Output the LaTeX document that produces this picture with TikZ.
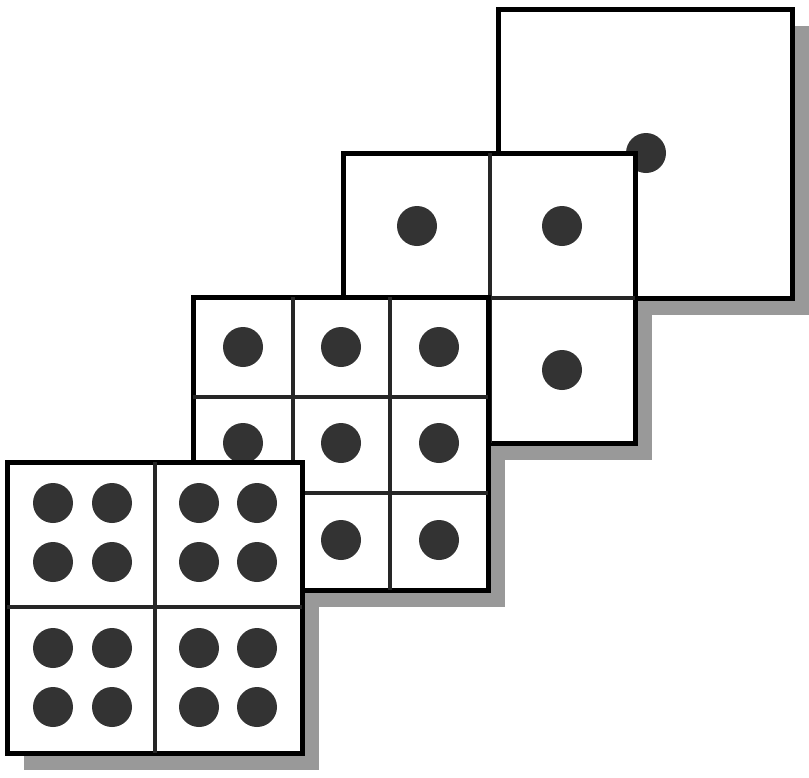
\documentclass[tikz,border=0pt]{standalone}
\tikzset{
  drop/.style ={fill=black!40,draw=none},
  tile/.style ={draw=black,fill=white,line width=2.5pt},
  cut/.style  ={draw=black!85,line width=2pt},
  pip/.style  ={fill=black!80,draw=none},
}

\begin{document}
\begin{tikzpicture}[x=0.5pt,y=-0.5pt]
\useasboundingbox (0,0) rectangle (809,777);
% shadows
\fill[drop] (515,26) rectangle (809,315);
\fill[drop] (360,170) rectangle (652,460);
\fill[drop] (210,314) rectangle (505,607);
\fill[drop] (24,479) rectangle (319,770);
% one
\draw[tile] (498,9) rectangle (792,298);
\fill[pip] (646,153) circle (10pt);
% two
\draw[tile] (343,153) rectangle (635,443);
\draw[cut] (490,153) -- (490,443) (343,298) -- (635,298);
\foreach \x/\y in {417/226,562/226,417/370,562/370}
  \fill[pip] (\x,\y) circle (10pt);
% three
\draw[tile] (193,297) rectangle (488,590);
\draw[cut] (293,297) -- (293,590) (390,297) -- (390,590)
           (193,397) -- (488,397) (193,493) -- (488,493);
\foreach \x in {243,341,439}
  \foreach \y in {347,443,540}
    \fill[pip] (\x,\y) circle (10pt);
% four
\draw[tile] (7,462) rectangle (302,753);
\draw[cut] (155,462) -- (155,753) (7,607) -- (302,607);
\foreach \x in {53,112,199,257}
  \foreach \y in {503,562,648,707}
    \fill[pip] (\x,\y) circle (10pt);
\end{tikzpicture}
\end{document}
